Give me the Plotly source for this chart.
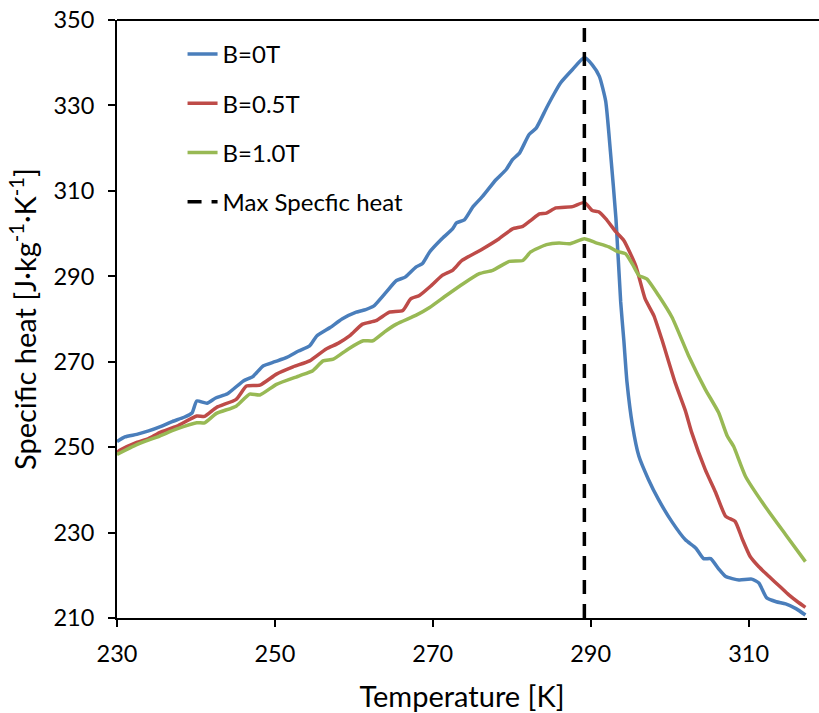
import plotly.graph_objects as go

# ---- data ----
t_b0 = [230.0, 231.0, 232.5, 234.0, 235.5, 237.0, 238.5, 239.5, 240.1, 241.4, 242.5, 244.0,
        246.0, 247.2, 248.5, 250.0, 251.5, 253.0, 254.4, 255.3, 257.0, 258.5, 260.3, 261.5,
        262.5, 264.1, 265.4, 266.5, 267.9, 268.7, 269.6, 271.0, 272.5, 273.0, 274.0, 275.1,
        276.3, 278.0, 279.3, 280.1, 281.0, 282.2, 283.1, 284.4, 285.3, 286.2, 287.7, 289.2,
        290.2, 291.1, 291.9, 292.5, 293.2, 293.8, 294.2, 294.6, 295.3, 296.1, 297.3, 298.6,
        300.3, 302.0, 303.3, 304.3, 305.2, 306.2, 307.1, 308.8, 310.4, 311.3, 312.3, 313.5,
        314.7, 316.0, 317.2]
cp_b0 = [251.3, 252.4, 253.0, 253.8, 254.8, 256.0, 257.0, 258.0, 260.8, 260.3, 261.5, 262.5,
         265.5, 266.5, 269.0, 270.0, 271.0, 272.5, 273.7, 276.0, 278.0, 280.0, 281.6, 282.2,
         283.0, 286.3, 289.0, 289.8, 292.2, 293.0, 295.7, 298.5, 301.1, 302.5, 303.2, 306.3,
         308.7, 312.6, 315.0, 317.3, 318.9, 323.2, 324.7, 329.4, 332.5, 335.3, 338.4, 341.2,
         339.5, 336.8, 331.0, 319.2, 303.5, 284.0, 275.0, 265.2, 255.0, 247.9, 242.5, 237.7,
         232.5, 228.3, 226.4, 223.9, 223.9, 221.5, 219.7, 218.9, 219.1, 218.2, 214.7, 213.8,
         213.3, 212.2, 210.7]

t_b05 = [230.0, 230.4, 232.5, 234.0, 235.4, 237.6, 240.1, 241.1, 242.6, 245.1, 246.4, 248.1,
         250.2, 252.3, 254.4, 256.5, 258.0, 259.5, 261.1, 262.8, 264.5, 266.2, 267.2, 268.3,
         269.8, 271.2, 272.5, 273.7, 276.3, 278.4, 280.1, 281.4, 282.5, 283.5, 284.4, 285.6,
         287.7, 289.2, 290.2, 291.0, 291.9, 293.2, 294.2, 295.7, 296.9, 298.0, 299.0, 300.7,
         302.0, 302.8, 304.5, 305.8, 307.1, 308.3, 309.2, 310.2, 311.3, 312.6, 314.0, 315.1,
         316.2, 317.2]
cp_b05 = [248.8, 249.3, 251.1, 252.0, 253.4, 254.9, 257.3, 257.2, 259.3, 261.2, 264.3, 264.5,
          267.1, 268.8, 270.2, 273.0, 274.3, 276.1, 278.8, 279.6, 281.6, 282.0, 284.7, 285.5,
          287.8, 290.2, 291.4, 293.7, 296.4, 298.8, 301.1, 301.7, 303.2, 304.6, 304.8, 306.0,
          306.3, 307.3, 305.4, 305.1, 303.5, 300.4, 298.4, 292.5, 284.7, 280.8, 275.3, 265.1,
          258.5, 253.4, 244.8, 239.5, 233.8, 232.6, 228.5, 224.4, 222.0, 219.7, 217.3, 215.4,
          213.8, 212.5]

t_b10 = [230.0, 232.5, 235.4, 237.5, 240.1, 241.1, 242.6, 245.1, 246.8, 248.1, 250.2, 253.1,
         254.8, 256.1, 257.4, 259.3, 261.2, 262.4, 263.9, 265.4, 267.9, 269.6, 271.7, 273.8,
         275.9, 277.6, 279.7, 281.4, 282.4, 284.4, 286.0, 287.3, 289.2, 290.6, 292.3, 293.4,
         294.4, 295.3, 296.1, 297.1, 298.6, 300.3, 302.4, 304.5, 306.2, 307.3, 308.1, 309.6,
         312.1, 314.7, 317.2]
cp_b10 = [248.3, 250.6, 252.6, 254.2, 255.7, 255.7, 257.9, 259.6, 262.4, 262.2, 264.7, 266.7,
          267.9, 270.2, 270.6, 273.0, 274.9, 274.9, 277.0, 278.8, 280.9, 282.7, 285.5, 288.2,
          290.6, 291.4, 293.5, 293.7, 295.7, 297.4, 297.8, 297.6, 298.8, 297.9, 296.9, 295.8,
          295.3, 292.8, 290.2, 289.4, 285.5, 280.4, 271.4, 263.6, 258.1, 252.6, 250.2, 243.2,
          236.1, 229.5, 223.2]

t_max = [289.2, 289.2]
cp_max = [210, 350]

x_ticks = [230, 250, 270, 290, 310]
y_ticks = [210, 230, 250, 270, 290, 310, 330, 350]

FONT = "Lato"
TICK_SIZE = 23.5
LEGEND_SIZE = 24
TITLE_SIZE = 29

fig = go.Figure()
fig.add_trace(go.Scatter(x=t_b0, y=cp_b0, mode="lines", name="B=0T", legendgroup="a",
                         line=dict(color="#4A7EBB", width=3.5, shape="spline", smoothing=0.5)))
fig.add_trace(go.Scatter(x=t_b05, y=cp_b05, mode="lines", name="B=0.5T", legendgroup="b",
                         line=dict(color="#BE4B48", width=3.5, shape="spline", smoothing=0.5)))
fig.add_trace(go.Scatter(x=t_b10, y=cp_b10, mode="lines", name="B=1.0T", legendgroup="c",
                         line=dict(color="#98B954", width=3.5, shape="spline", smoothing=0.5)))
fig.add_trace(go.Scatter(x=t_max, y=cp_max, mode="lines", name="Max Specfic heat", legendgroup="d",
                         line=dict(color="black", width=3.5, dash="14px,10px")))

fig.update_layout(
    width=819, height=713,
    margin=dict(l=117, r=12, t=20, b=95),
    paper_bgcolor="white", plot_bgcolor="white",
    font=dict(family=FONT, size=TICK_SIZE, color="black"),
    showlegend=True,
    legend=dict(x=0.095, y=0.98, xanchor="left", yanchor="top",
                bgcolor="rgba(0,0,0,0)", font=dict(size=LEGEND_SIZE, family=FONT),
                tracegroupgap=15),
    xaxis=dict(range=[230, 317.4], tickmode="array", tickvals=x_ticks,
               ticks="outside", ticklen=7, tickwidth=1.5, tickcolor="black",
               showline=True, linecolor="black", linewidth=2, showgrid=False, zeroline=False,
               automargin=False, ticklabelstandoff=7, ticklabeloverflow="allow",
               tickfont=dict(size=TICK_SIZE, family=FONT),
               title=dict(text="Temperature [K]", font=dict(size=TITLE_SIZE, family=FONT), standoff=23)),
    yaxis=dict(range=[210, 350], tickmode="array", tickvals=y_ticks,
               ticks="outside", ticklen=7, tickwidth=1.5, tickcolor="black",
               showline=True, linecolor="black", linewidth=2, showgrid=False, zeroline=False,
               automargin=False, ticklabelstandoff=9, ticklabeloverflow="allow",
               tickfont=dict(size=TICK_SIZE, family=FONT),
               title=dict(text="Specific heat [J·kg<sup>-1</sup>·K<sup>-1</sup>]",
                          font=dict(size=TITLE_SIZE, family=FONT), standoff=8)),
    shapes=[dict(type="line", xref="paper", yref="paper", x0=0, x1=1.02, y0=1, y1=1,
                 line=dict(color="black", width=2))],
)

# remove the default 8px page margin so the figure fills the 819x713 window exactly
fig.write_html("out.html", config={"displayModeBar": False},
               post_script="document.body.style.margin='0px';")
